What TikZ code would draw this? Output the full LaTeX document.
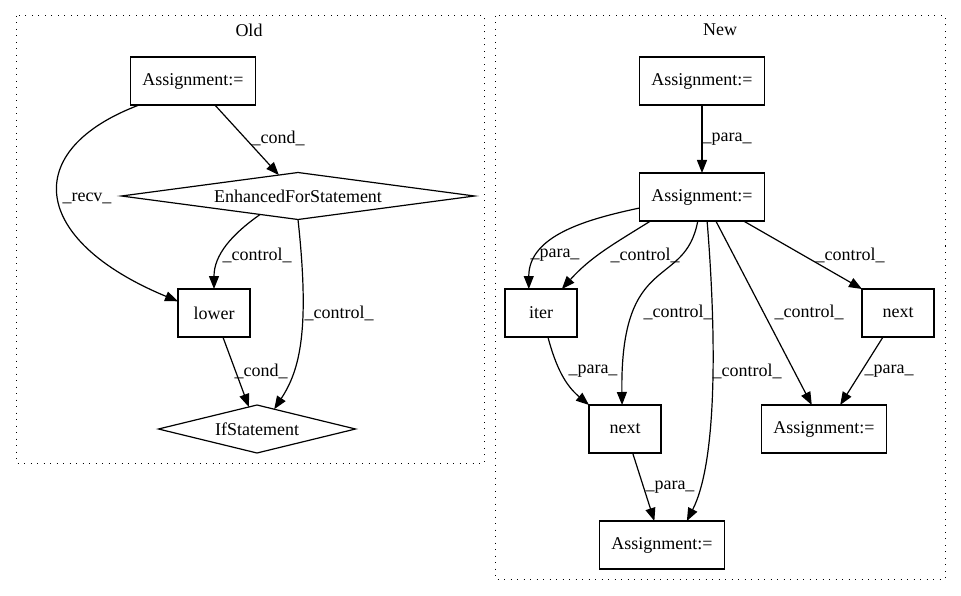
\documentclass[tikz,border=0pt]{standalone}
\usepackage{fontspec}
\setmainfont{Liberation Serif}
\usetikzlibrary{arrows.meta,shapes.geometric}

\begin{document}
\begin{tikzpicture}[x=1pt, y=-1pt, font=\fontsize{18}{20}\selectfont,
		box/.style={rectangle,draw,line width=1.2pt,minimum width=72pt,minimum height=48pt,inner xsep=12pt,outer sep=0pt},
		decision/.style={diamond,draw,line width=1.2pt,inner sep=0pt,outer sep=0pt},
		edge/.style={line width=1.2pt,-{Triangle[length=13pt,width=10pt]}},
		cluster/.style={line width=1pt,dash pattern=on 1pt off 5.5pt},
		lbl/.style={inner sep=0pt}]
			\useasboundingbox (0,0) rectangle (961,596);
			% old
			\draw[cluster] (16,16) rectangle (484,463);
			\node[lbl] (old) at (249,30) {Old};
			\node[box] (oa) at (193,81) {Assignment:=};
			\node[decision, shape aspect=7.5, minimum width=353pt, minimum height=47pt] (oefs) at (298,196) {EnhancedForStatement};
			\node[box] (olower) at (214,313) {lower};
			\node[decision, shape aspect=4.1, minimum width=197pt, minimum height=48pt] (oif) at (257,429) {IfStatement};
			
			\draw[edge] (oa) -- (oefs);
			\node[lbl] (ocond1) at (278,138) {\_cond\_};
			\draw[edge] (oa.204) .. controls (20,150) and (30,240) .. (olower.162);
			\node[lbl] (orecv) at (87,198) {\_recv\_};
			\draw[edge] (oefs.206) to [out=-145,in=90] (olower.north);
			\node[lbl] (octrl1) at (257,255) {\_control\_};
			\draw[edge] (oefs.south) .. controls (310,330) and (300,370) .. (oif.49);
			\node[lbl] (octrl2) at (339,313) {\_control\_};
			\draw[edge] (olower) -- (oif);
			\node[lbl] (ocond2) at (261,371) {\_cond\_};
			
			% new
			\draw[cluster] (495,16) rectangle (945,579);
			\node[lbl] (new) at (720,30) {New};
			\node[box] (na1) at (702,81) {Assignment:=};
			\node[box] (na2) at (702,197) {Assignment:=};
			\node[box] (niter) at (541,313) {iter};
			\node[box] (nnr) at (898,313) {next};
			\node[box] (nnm) at (625,429) {next};
			\node[box] (nar) at (824,429) {Assignment:=};
			\node[box] (nab) at (662,545) {Assignment:=};
			
			\draw[edge] (na1) -- (na2);
			\node[lbl] (npara1) at (727,139) {\_para\_};
			\draw[edge] (na2.190) to [out=-168,in=90] (niter.117);
			\node[lbl] (npara2) at (555,255) {\_para\_};
			\draw[edge] (na2.205) to [out=-148,in=48] (niter.49);
			\node[lbl] (nctrl1) at (645,255) {\_control\_};
			\draw[edge] (na2.260) .. controls (685,290) and (620,250) .. (nnm.97);
			\node[lbl] (nctrl2) at (678,312) {\_control\_};
			\draw[edge] (na2.282) .. controls (716,330) and (718,460) .. (nab.44);
			\node[lbl] (nctrl3) at (747,371) {\_control\_};
			\draw[edge] (na2.300) -- (nar.117);
			\node[lbl] (nctrl4) at (809,312) {\_control\_};
			\draw[edge] (na2.330) -- (nnr.north west);
			\node[lbl] (nctrl5) at (850,255) {\_control\_};
			\draw[edge] (niter.286) to [out=-75,in=140] (nnm.north west);
			\node[lbl] (npara3) at (593,371) {\_para\_};
			\draw[edge] (nnr.238) -- (nar.56);
			\node[lbl] (npara4) at (889,371) {\_para\_};
			\draw[edge] (nnm) -- (nab);
			\node[lbl] (npara5) at (670,487) {\_para\_};
		\end{tikzpicture}
\end{document}
